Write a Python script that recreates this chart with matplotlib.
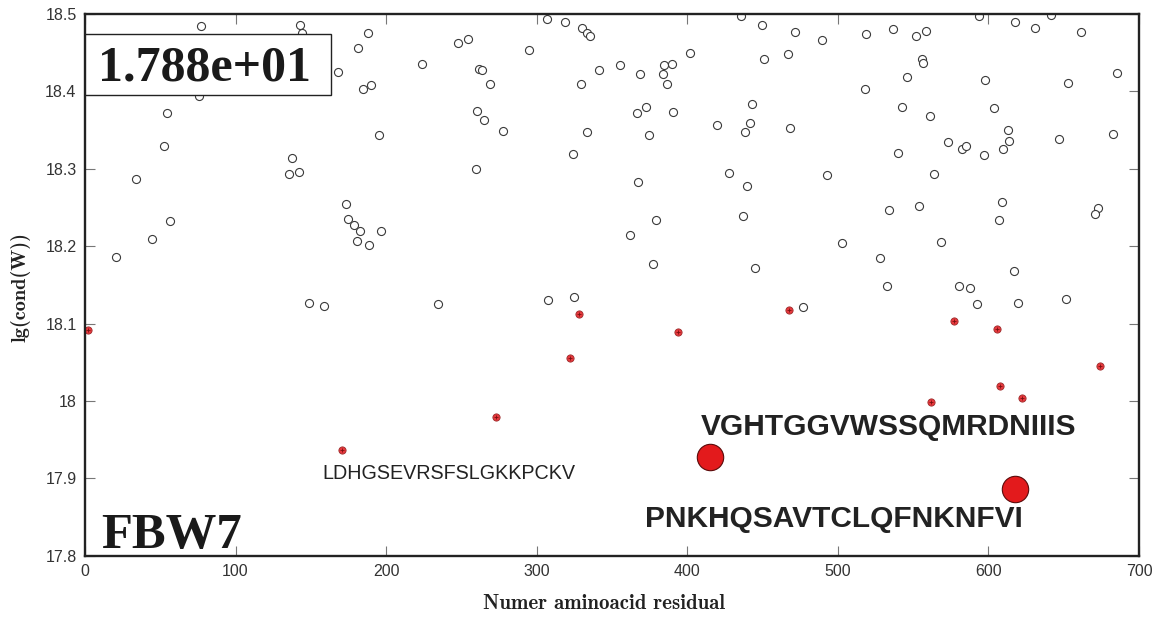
import matplotlib.pyplot as plt
from matplotlib.patches import Rectangle

# residues with ordinary conductance values (hollow markers)
res_x = [77, 142.7, 143.9, 75.5, 167.8, 181.4, 187.7, 184.4, 189.7, 54.6,
         195.4, 52.4, 33.7, 137.6, 135.6, 141.9, 56.6, 44.7, 20.6, 173.7,
         174.8, 178.8, 182.6, 180.6, 188.5, 196.7, 148.9, 158.7,
         306.9, 318.7, 330.4, 333.1, 335.7, 435.5, 449.6, 247.6, 254.7, 294.8,
         223.7, 261.6, 264.0, 268.9, 341.7, 355.6, 368.9, 384.6, 389.9, 383.7,
         386.6, 401.6, 450.8, 329.7, 260.7, 264.9, 277.7, 333.5, 366.7, 372.6,
         390.6, 374.6, 442.8, 419.8, 441.7, 438.6, 323.8, 259.6, 367.6, 427.5,
         439.7, 379.5, 361.8, 436.8, 377.5, 444.8, 234.8, 307.8, 324.6,
         471.8, 489.7, 518.7, 536.6, 551.7, 558.8, 593.7, 617.9, 630.7, 641.8,
         661.7, 466.9, 555.7, 556.8, 545.7, 598.0, 652.8, 685.6, 517.8, 542.9,
         561.0, 603.9, 468.5, 612.8, 572.9, 582.7, 584.9, 596.8, 609.9, 613.9,
         646.8, 682.9, 539.7, 492.8, 563.8, 533.8, 553.9, 609.0, 606.8, 673.0,
         670.7, 502.8, 568.7, 527.8, 616.7, 532.6, 580.7, 587.5, 592.6, 619.9,
         651.7, 476.7]
res_y = [18.484, 18.486, 18.476, 18.394, 18.425, 18.456, 18.476, 18.403, 18.408, 18.372,
         18.344, 18.329, 18.287, 18.314, 18.293, 18.296, 18.233, 18.209, 18.186, 18.255,
         18.235, 18.227, 18.220, 18.207, 18.201, 18.220, 18.126, 18.122,
         18.494, 18.489, 18.482, 18.476, 18.472, 18.497, 18.486, 18.463, 18.467, 18.453,
         18.435, 18.429, 18.428, 18.410, 18.428, 18.434, 18.422, 18.434, 18.435, 18.422,
         18.409, 18.450, 18.442, 18.409, 18.374, 18.363, 18.349, 18.347, 18.372, 18.380,
         18.373, 18.343, 18.384, 18.357, 18.359, 18.348, 18.319, 18.300, 18.283, 18.294,
         18.278, 18.234, 18.215, 18.239, 18.177, 18.172, 18.125, 18.131, 18.134,
         18.477, 18.466, 18.474, 18.481, 18.471, 18.478, 18.497, 18.490, 18.482, 18.499,
         18.477, 18.448, 18.442, 18.436, 18.418, 18.414, 18.411, 18.424, 18.403, 18.380,
         18.368, 18.378, 18.352, 18.350, 18.335, 18.325, 18.329, 18.318, 18.325, 18.336,
         18.338, 18.345, 18.320, 18.292, 18.293, 18.247, 18.252, 18.257, 18.234, 18.249,
         18.241, 18.204, 18.205, 18.184, 18.168, 18.149, 18.148, 18.146, 18.125, 18.126,
         18.132, 18.121]

# low conductance residues (small red markers)
low_x = [1.8, 170.6, 327.8, 393.9, 322.4, 272.9, 467.7, 576.9, 605.9, 674.3,
         607.9, 622.1, 561.8]
low_y = [18.091, 17.936, 18.112, 18.089, 18.056, 17.979, 18.118, 18.103, 18.093, 18.045,
         18.019, 18.004, 17.998]

# minimum residues (big red markers)
min_x = [415.1, 617.9]
min_y = [17.927, 17.886]

peptides = ['LDHGSEVRSFSLGKKPCKV', 'VGHTGGVWSSQMRDNIIIS', 'PNKHQSAVTCLQFNKNFVI']
pep_x = [241.6, 533.4, 497.6]
pep_y = [17.906, 17.966, 17.848]
pep_size = [14.2, 21.5, 21.5]
pep_weight = ['normal', 'bold', 'bold']

cond_label = '1.788e+01'
protein = 'FBW7'

plt.rcParams['font.family'] = ['Liberation Sans', 'DejaVu Sans']

fig = plt.figure(figsize=(11.59, 6.17), dpi=100)
ax = fig.add_axes([0.0733, 0.0994, 0.9094, 0.8780])

ax.plot(res_x, res_y, 'o', ms=5.8, mfc='white', mec='#3a3a3a', mew=0.8, ls='none')
ax.plot(low_x, low_y, 'o', ms=5.2, mfc='#e8383d', mec='#9a2a2a', mew=0.6, ls='none', clip_on=False)
ax.plot(low_x, low_y, '+', ms=3, mec='#7a1010', mew=0.6, ls='none', clip_on=False)
ax.plot(min_x, min_y, 'o', ms=19, mfc='#e31a1c', mec='#5a0a0a', mew=0.8, ls='none')

for s, x, y, fs, fw in zip(peptides, pep_x, pep_y, pep_size, pep_weight):
    ax.text(x, y, s, fontsize=fs, fontweight=fw, color='#222222', ha='center', va='center')

ax.text(11.1, 17.810, protein, fontsize=36.5, fontweight='bold', family='Liberation Serif',
        color='#1a1a1a', va='baseline', ha='left')

ax.add_patch(Rectangle((0, 0.8505), 0.2334, 0.1126, transform=ax.transAxes,
                       fc='white', ec='#222222', lw=1.0, zorder=5))
ax.text(0.0123, 0.8763, cond_label, transform=ax.transAxes, fontsize=36, fontweight='bold',
        family='Liberation Serif', color='#1a1a1a', va='baseline', ha='left', zorder=6)

ax.set_xlim(0, 700)
ax.set_ylim(17.8, 18.5)
ax.set_xticks(range(0, 701, 100))
ax.set_yticks([17.8, 17.9, 18.0, 18.1, 18.2, 18.3, 18.4, 18.5])
ax.set_yticklabels(['17.8', '17.9', '18', '18.1', '18.2', '18.3', '18.4', '18.5'])
ax.tick_params(direction='in', length=7, width=0.8, color='#777777', labelsize=11.5,
               labelcolor='#333333', top=True, right=True, pad=6)
for sp in ax.spines.values():
    sp.set_linewidth(1.7)
    sp.set_color('#222222')

ax.set_xlabel('Numer aminoacid residual', family='cmb10', fontsize=15, color='#222222')
ax.set_ylabel('lg(cond(W))', family='cmb10', fontsize=14.6, color='#222222')
ax.xaxis.label.set_va('center')
ax.yaxis.label.set_va('center')
ax.xaxis.set_label_coords(0.4924, -0.0892)
ax.yaxis.set_label_coords(-0.0607, 0.496)

fig.savefig('out.png', dpi=100)
